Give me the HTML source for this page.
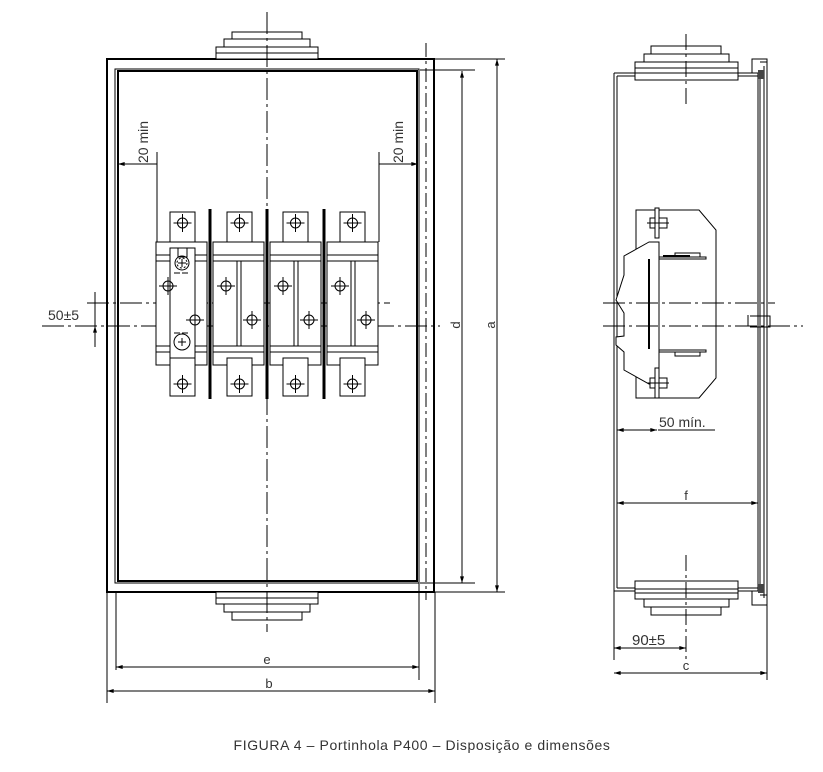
<!DOCTYPE html>
<html><head><meta charset="utf-8"><style>
html,body{margin:0;padding:0;background:#fff;width:823px;height:772px;overflow:hidden}
svg{display:block}
text{font-family:"Liberation Sans",sans-serif;fill:#333}
</style></head><body>
<svg width="823" height="772" viewBox="0 0 823 772" xmlns="http://www.w3.org/2000/svg">
<defs>
<marker id="ar" viewBox="0 0 10 6" refX="10" refY="3" markerWidth="8" markerHeight="4" orient="auto-start-reverse"><path d="M0,0L10,3L0,6z" fill="#000"/></marker>
<g id="hole"><circle r="5" fill="none" stroke="#000" stroke-width="1"/><path d="M-9,0H9M0,-9V9" stroke="#000" stroke-width="1"/></g>
<g id="term"><rect x="0" y="0" width="25" height="30" fill="#fff" stroke="#000"/><use href="#hole" x="12.5" y="11"/></g>
<g id="termb"><rect x="0" y="0" width="25" height="38" fill="#fff" stroke="#000"/><use href="#hole" x="12.5" y="26"/></g>
<g id="mod">
<rect x="0" y="0" width="51" height="123" fill="#fff" stroke="#000"/>
<path d="M0,13H51M0,19H51M0,104H51M0,110H51" stroke="#000" fill="none"/>
<path d="M24,19V104M28,19V104" stroke="#000" fill="none"/>
</g>
<g id="bolt"><rect x="-7" y="-5" width="5" height="10" fill="#fff" stroke="#000"/><rect x="-2" y="-15" width="4" height="30" fill="#fff" stroke="#000"/><rect x="2" y="-5" width="8" height="10" fill="#fff" stroke="#000"/><path d="M-10,0H12" stroke="#000"/></g>
</defs>
<g fill="none" stroke="#000" stroke-width="1">
<rect x="107" y="59" width="327" height="533" stroke-width="2"/>
<rect x="115" y="69" width="304" height="514"/>
<rect x="118" y="71" width="299" height="510" stroke-width="2"/>
<path d="M434,59H445M434,592H445"/>
<rect x="216" y="47" width="102" height="12" fill="#fff"/><path d="M216,53H318"/>
<rect x="224" y="39" width="86" height="8" fill="#fff"/>
<rect x="232" y="32" width="70" height="7" fill="#fff"/>
<rect x="216" y="592" width="102" height="12" fill="#fff"/><path d="M216,598H318"/>
<rect x="224" y="604" width="86" height="8" fill="#fff"/>
<rect x="232" y="612" width="70" height="8" fill="#fff"/>
<path d="M267,12V270M267,360V632" stroke-dasharray="22,4,3,4"/>
<path d="M426,43V600" stroke-dasharray="14,4,3,4"/>
<path d="M87,303H390" stroke-dasharray="22,4,3,4"/>
<path d="M42,326H440" stroke-dasharray="22,4,3,4"/>
<use href="#mod" x="156" y="242"/>
<use href="#mod" x="213" y="242"/>
<use href="#mod" x="270" y="242"/>
<use href="#mod" x="327" y="242"/>
<use href="#term" x="170" y="212"/><use href="#termb" x="170" y="358"/>
<use href="#term" x="227" y="212"/><use href="#termb" x="227" y="358"/>
<use href="#term" x="283" y="212"/><use href="#termb" x="283" y="358"/>
<use href="#term" x="340" y="212"/><use href="#termb" x="340" y="358"/>
<rect x="170" y="248" width="25" height="110" fill="#fff"/>
<path d="M170,248H178V257H187V248H195"/>
<circle cx="182" cy="263" r="7"/><circle cx="182" cy="263" r="5" stroke-dasharray="2,2"/><path d="M178,263H186M182,259V267"/>
<circle cx="182" cy="342" r="8"/><path d="M178,342H186M182,338V346"/>
<path d="M174,273H190M174,333H190" stroke-dasharray="6,2"/>
<use href="#hole" x="168" y="286"/>
<use href="#hole" x="195" y="320"/>
<use href="#hole" x="226" y="286"/><use href="#hole" x="252" y="320"/>
<use href="#hole" x="283" y="286"/><use href="#hole" x="309" y="320"/>
<use href="#hole" x="340" y="286"/><use href="#hole" x="366" y="320"/>
<path d="M210,209V399M267,209V399M324,209V399" stroke-width="3"/>
<path d="M157,152V242M379,152V242"/>
<path d="M118,164H157M379,164H418" marker-start="url(#ar)" marker-end="url(#ar)"/>
<path d="M95,292V347"/>
<path d="M95,292V303M95,347V326" marker-end="url(#ar)"/>
<path d="M434,59H505M420,70H475"/>
<path d="M420,583H475M434,592H505"/>
<path d="M462,71V583" marker-start="url(#ar)" marker-end="url(#ar)"/>
<path d="M497,59V592" marker-start="url(#ar)" marker-end="url(#ar)"/>
<path d="M116,592V670M419,583V680M107,592V703M435,592V703"/>
<path d="M116,667H419" marker-start="url(#ar)" marker-end="url(#ar)"/>
<path d="M107,691H435" marker-start="url(#ar)" marker-end="url(#ar)"/>
<path d="M614,73V660M617,76V588M614,73H758M617,76H758M614,591H758M617,588H758"/>
<path d="M758,73V591M760,73V591M764,66V598M767,59V605" stroke-width="1"/>
<path d="M760,62H767V59H752V73M760,595H767V605H752V591"/>
<rect x="758" y="70" width="6" height="9" fill="#444" stroke="none"/>
<rect x="758" y="584" width="6" height="9" fill="#444" stroke="none"/>
<path d="M743,73H758M743,591H758"/>
<rect x="635" y="62" width="103" height="18" fill="#fff"/><path d="M635,68H738M635,73H738"/>
<rect x="644" y="54" width="85" height="8" fill="#fff"/>
<rect x="651" y="46" width="70" height="8" fill="#fff"/>
<rect x="635" y="581" width="103" height="18" fill="#fff"/><path d="M635,589H738M635,593H738"/>
<rect x="644" y="599" width="85" height="8" fill="#fff"/>
<rect x="651" y="607" width="70" height="8" fill="#fff"/>
<path d="M686,34V105M686,555V660" stroke-dasharray="16,4,3,4"/>
<path d="M636,210H699L716,230V378L699,398H636Z" fill="#fff"/>
<path d="M649,242L624,256V275L616,300L624,313V336L616,337V345L624,352V370L649,384H659V242Z" fill="#fff"/>
<path d="M649,259V349" stroke-width="2"/>
<path d="M659,257H706V259H659M659,350H706V352H659"/>
<rect x="675" y="253" width="25" height="4"/><rect x="675" y="352" width="25" height="4"/>
<path d="M663,256H690" stroke-width="2"/>
<use href="#bolt" x="657" y="223"/>
<use href="#bolt" x="657" y="383"/>
<path d="M603,303H775" stroke-dasharray="22,4,3,4"/>
<path d="M603,326H803" stroke-dasharray="22,4,3,4"/>
<path d="M748,315V326M750,316H770V327H750"/>
<path d="M617,430H657" marker-start="url(#ar)" marker-end="url(#ar)"/>
<path d="M658,430H715"/>
<path d="M617,503H758" marker-start="url(#ar)" marker-end="url(#ar)"/>
<path d="M767,605V680"/>
<path d="M614,648H686" marker-start="url(#ar)" marker-end="url(#ar)"/>
<path d="M614,673H767" marker-start="url(#ar)" marker-end="url(#ar)"/>
</g>
<text x="148" y="142" font-size="14" transform="rotate(-90 148 142)" text-anchor="middle">20  min</text>
<text x="403" y="142" font-size="14" transform="rotate(-90 403 142)" text-anchor="middle">20  min</text>
<text x="48" y="320" font-size="14">50±5</text>
<text x="460" y="325" font-size="13" transform="rotate(-90 460 325)" text-anchor="middle">d</text>
<text x="495" y="325" font-size="13" transform="rotate(-90 495 325)" text-anchor="middle">a</text>
<text x="267" y="664" font-size="13" text-anchor="middle">e</text>
<text x="269" y="688" font-size="13" text-anchor="middle">b</text>
<text x="659" y="427" font-size="14">50  mín.</text>
<text x="686" y="500" font-size="13" text-anchor="middle">f</text>
<text x="632" y="645" font-size="15">90±5</text>
<text x="686" y="670" font-size="13" text-anchor="middle">c</text>
<text x="422" y="750" font-size="14" letter-spacing="0.6" text-anchor="middle">FIGURA 4 – Portinhola P400 – Disposição e dimensões</text>
</svg>
</body></html>
